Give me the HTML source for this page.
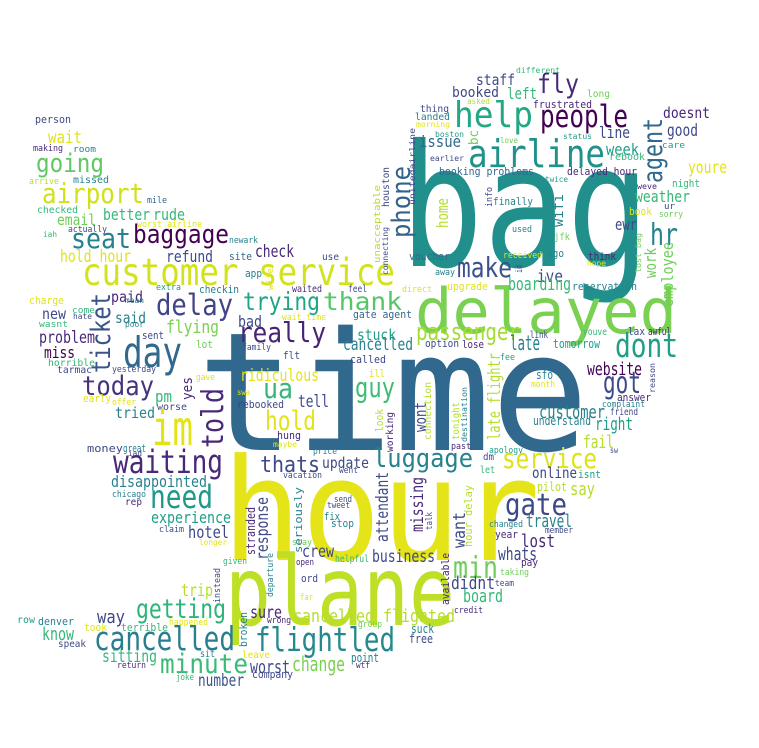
<!DOCTYPE html>
<html><head><meta charset="utf-8"><style>
html,body{margin:0;padding:0;background:#fff;}
svg{display:block;}
text{font-family:"DejaVu Sans Mono","Liberation Mono",monospace;}
</style></head>
<body>
<svg id="cloud" width="759" height="748" viewBox="0 0 759 748" xmlns="http://www.w3.org/2000/svg">
<rect width="759" height="748" fill="#fff"/>
</svg>
<script>
const P="#440154",P2="#482878",B1="#3e4989",B="#31688e",T="#26828e",T2="#1f9e89",G="#35b779",G2="#6ece58",YG="#b5de2b",Y="#e2e418";
// [word, x, y(baseline), length, fontSize, color, vertical]
const words=[
["bag",400,266,250,170,"#21908d",0],
["time",197,450,392,165,"#31688e",0],
["hour",222,560,318,142,"#e4e419",0],
["plane",225,625,230,96,"#bddf26",0],
["delayed",415,333,262,62,"#7ad151",0],
["customer service",82,285,313,37,"#d2e21b",0],
["airline",468,167,137,38,"#21918c",0],
["help",454,127,79,36,"#22a884",0],
["people",540,127,88,31,P,0],
["fly",537,93,42,27,P2,0],
["staff",476,85,39,15,B1,0],
["booked",452,97,47,14,B1,0],
["left",507,99,30,16,G,0],
["long",587,97,23,10,G2,0],
["different",516,73,44,8,G,0],
["asked",467,104,23,8,YG,0],
["frustrated",533,108,59,11,P2,0],
["thing",420,112,29,10,B1,0],
["doesnt",663,118,47,15,P2,0],
["landed",415,120,35,10,T,0],
["morning",416,127,34,8,Y,0],
["good",667,136,31,17,B1,0],
["line",599,138,31,16,B1,0],
["status",563,139,29,8,T2,0],
["issue",419,147,42,16,B,0],
["boston",435,137,29,8,T2,0],
["love",500,143,18,8,G2,0],
["care",662,148,23,9,T2,0],
["week",606,155,33,16,T2,0],
["rebook",609,160,36,10,G,0],
["earlier",430,161,34,8,B1,0],
["youre",688,173,39,17,Y,0],
["booking problems",439,175,95,11,B,0],
["delayed hour",567,175,70,11,P2,0],
["twice",545,182,23,8,T2,0],
["weve",637,189,20,8,P2,0],
["night",672,187,28,11,G,0],
["finally",493,205,40,11,T,0],
["weather",635,202,55,16,G,0],
["ur",664,209,11,9,B1,0],
["book",629,215,23,11,Y,0],
["sorry",659,217,24,9,G2,0],
["ewr",615,230,22,16,B1,0],
["hr",650,245,28,30,T,0],
["used",512,232,20,9,T,0],
["jfk",554,240,16,10,G2,0],
["voucher",409,260,41,11,B,0],
["received",503,258,39,9,Y,0],
["ago",547,257,17,11,T,0],
["think",588,260,28,11,P2,0],
["hope",587,266,19,8,Y,0],
["make",457,277,55,28,"#3b528b",0],
["away",435,275,20,9,T,0],
["ive",537,282,26,17,B1,0],
["boarding",508,290,63,18,G,0],
["upgrade",447,290,41,11,Y,0],
["reservation",572,290,65,11,T,0],
["direct",402,292,30,9,Y,0],
["passenger",416,340,104,24,"#a5db36",0],
["late",510,350,30,20,T,0],
["tomorrow",553,348,47,12,T2,0],
["option",425,347,34,11,B1,0],
["lose",462,348,22,11,P2,0],
["link",530,338,18,10,B1,0],
["youve",583,335,24,10,G,0],
["lax",628,335,17,11,B1,0],
["awful",648,335,23,11,P2,0],
["dont",615,357,63,33,T2,0],
["fee",500,360,15,9,T2,0],
["website",587,375,55,18,P,0],
["sfo",536,379,17,12,T,0],
["month",531,387,24,9,Y,0],
["got",603,393,38,30,B1,0],
["answer",617,401,34,11,P2,0],
["complaint",602,407,43,9,T,0],
["friend",610,415,28,10,B1,0],
["customer",539,418,66,18,T,0],
["understand",533,425,58,12,T,0],
["right",595,430,38,18,T2,0],
["fail",583,448,31,18,YG,0],
["past",451,449,20,9,P2,0],
["apology",489,453,34,9,T2,0],
["dm",483,460,11,10,B1,0],
["sw",610,453,8,8,B1,0],
["let",480,473,15,10,G,0],
["service",502,468,95,28,"#dde318",0],
["online",532,478,45,15,B1,0],
["isnt",578,478,23,11,T2,0],
["person",35,123,36,11,B1,0],
["wait",48,143,34,17,Y,0],
["making",33,151,30,9,P2,0],
["room",73,152,23,9,T,0],
["going",36,172,68,26,"#5ec962",0],
["arrive",29,184,30,9,YG,0],
["missed",73,183,36,10,T,0],
["airport",42,203,102,28,"#d0e11c",0],
["mile",147,203,20,9,B,0],
["checked",37,213,41,10,G,0],
["email",57,225,39,15,G2,0],
["better",103,220,47,16,G,0],
["rude",153,220,32,16,G,0],
["worst airline",137,227,65,9,Y,0],
["actually",68,232,39,9,B1,0],
["iah",43,237,14,8,G,0],
["seat",71,248,60,28,T,0],
["baggage",133,243,96,26,P,0],
["newark",229,243,29,9,T,0],
["hold hour",60,262,71,17,Y,0],
["refund",166,262,47,16,B1,0],
["site",229,260,23,11,B,0],
["check",255,257,39,17,P2,0],
["use",322,260,17,10,B1,0],
["app",245,277,17,11,T,0],
["charge",29,304,35,11,Y,0],
["extra",156,290,25,9,T2,0],
["checkin",199,293,40,11,T,0],
["waited",292,292,30,10,P2,0],
["feel",348,292,19,10,B1,0],
["paid",111,302,32,15,P2,0],
["mean",125,303,19,8,B,0],
["delay",156,315,77,29,"#414487",0],
["trying",243,310,77,25,"#20a486",0],
["thank",323,310,79,25,"#56c667",0],
["new",42,319,24,15,B1,0],
["come",72,313,23,9,G,0],
["hate",73,319,19,8,B1,0],
["said",115,323,31,15,T,0],
["wasnt",39,327,29,9,G,0],
["poor",125,327,19,8,T,0],
["wait time",282,320,44,9,Y,0],
["gate agent",353,318,59,11,B,0],
["bad",238,327,24,16,B1,0],
["flying",166,333,53,18,"#7ad151",0],
["really",238,342,88,28,"#482475",0],
["stuck",357,340,39,15,T2,0],
["problem",39,343,56,17,P2,0],
["sent",142,339,22,11,B1,0],
["lot",196,348,17,11,G2,0],
["family",242,350,29,9,B1,0],
["cancelled",343,350,70,17,T,0],
["miss",44,358,31,16,P,0],
["day",123,367,59,42,B,0],
["flt",283,359,17,11,B1,0],
["called",350,363,36,11,B1,0],
["horrible",48,366,47,10,G,0],
["tarmac",57,373,35,10,B1,0],
["yesterday",112,372,44,9,B1,0],
["ridiculous",240,381,79,17,Y,0],
["ill",369,377,16,11,Y,0],
["today",82,395,72,27,"#46337e",0],
["gave",196,380,19,9,Y,0],
["ua",263,398,30,28,G,0],
["guy",355,397,40,28,"#3fbc73",0],
["pm",155,402,17,16,G,0],
["swa",237,395,13,8,Y,0],
["early",83,402,28,11,Y,0],
["offer",112,405,24,9,Y,0],
["tell",298,407,31,17,B1,0],
["rebooked",237,408,47,11,B1,0],
["worse",157,410,30,10,B1,0],
["im",152,445,41,48,Y,0],
["tried",115,418,40,15,T,0],
["hold",265,430,51,27,Y,0],
["hung",277,439,24,11,P2,0],
["maybe",273,447,24,8,Y,0],
["money",87,452,36,11,B1,0],
["great",123,452,23,11,T,0],
["iad",128,456,14,8,B1,0],
["waiting",113,473,110,32,P2,0],
["thats",260,472,60,22,B1,0],
["update",322,468,47,15,B1,0],
["luggage",373,467,100,26,T,0],
["price",313,454,24,9,T,0],
["vacation",283,478,39,9,B1,0],
["went",339,473,19,9,B1,0],
["disappointed",111,487,96,16,T,0],
["chicago",112,497,34,9,T,0],
["need",150,508,63,32,"#1f9a8a",0],
["rep",125,505,17,10,P2,0],
["gate",505,515,62,30,B1,0],
["send",334,502,18,9,B1,0],
["tweet",327,508,23,9,B1,0],
["fix",324,520,16,11,T,0],
["stop",331,527,23,11,T,0],
["experience",151,523,80,16,T2,0],
["claim",159,532,25,9,B1,0],
["hotel",188,538,41,17,B1,0],
["longer",199,545,28,8,Y,0],
["stay",292,545,20,9,G2,0],
["travel",526,527,46,18,T,0],
["changed",489,527,34,9,T,0],
["member",545,533,28,9,B1,0],
["year",495,538,23,11,P2,0],
["lost",521,547,34,18,P2,0],
["say",570,495,25,18,YG,0],
["pilot",537,491,30,12,YG,0],
["crew",302,557,32,17,B1,0],
["helpful",335,562,34,10,G,0],
["business",372,562,63,17,"#3e4989",0],
["open",296,565,18,9,P2,0],
["whats",498,560,39,18,B1,0],
["pay",521,566,17,11,P2,0],
["taking",500,575,29,9,G2,0],
["given",223,564,24,9,G,0],
["min",453,578,45,30,G2,0],
["ord",301,582,17,11,B1,0],
["team",495,586,19,9,B1,0],
["didnt",451,589,44,18,B1,0],
["trip",181,596,32,17,YG,0],
["far",300,600,13,9,Y,0],
["board",463,602,40,18,G,0],
["credit",454,613,29,9,P2,0],
["getting",136,618,90,27,"#2eb37c",0],
["sure",250,618,32,17,P2,0],
["cancelled flighted",293,622,162,18,"#b5de2b",0],
["wrong",267,623,24,9,P2,0],
["way",97,623,28,18,B1,0],
["row",17,623,18,10,T2,0],
["denver",38,625,36,11,T,0],
["happened",169,625,39,9,Y,0],
["group",358,627,24,9,G2,0],
["took",84,631,23,11,Y,0],
["terrible",121,631,47,11,G,0],
["suck",411,633,23,12,T,0],
["know",42,640,32,18,G,0],
["free",409,643,24,12,B1,0],
["speak",58,647,28,10,B1,0],
["cancelled",94,650,141,33,"#287d8e",0],
["flightled",255,651,140,33,"#23898e",0],
["leave",242,658,28,10,Y,0],
["sit",200,657,15,10,T,0],
["sitting",102,662,55,17,G,0],
["point",351,662,28,12,T,0],
["return",117,668,29,9,P2,0],
["wtf",356,668,14,9,P2,0],
["change",292,671,53,20,"#7ad151",0],
["minute",160,673,88,27,"#3aba76",0],
["worst",250,673,40,18,B1,0],
["company",252,678,41,11,B1,0],
["joke",176,680,18,9,G,0],
["number",198,686,46,17,"#3b528b",0],
// vertical words: x = baseline x, y = bottom end
["ticket",110,373,80,27,"#3b528b",1],
["yes",192,400,23,14,P2,1],
["told",223,448,60,30,P2,1],
["wife",273,290,22,9,Y,1],
["phone",410,238,72,26,"#33638d",1],
["houston",389,207,40,10,B1,1],
["unitedairline",415,205,77,8,B1,1],
["unacceptable",380,263,78,9,YG,1],
["connecting",388,275,48,8,B1,1],
["info",492,207,20,9,B1,1],
["bc",478,145,15,13,G2,1],
["agent",662,183,65,27,B,1],
["wifi",563,227,33,14,T,1],
["home",448,228,30,16,YG,1],
["lost bag",641,273,40,8,G2,1],
["work",656,278,30,16,G2,1],
["employee",673,307,65,16,G2,1],
["id",522,273,8,9,B1,1],
["reason",655,393,30,8,B1,1],
["late flightr",500,440,87,17,YG,1],
["wont",426,432,30,16,B1,1],
["connection",431,440,58,10,YG,1],
["tonight",459,440,38,10,YG,1],
["destination",467,442,55,8,T,1],
["look",383,432,23,11,YG,1],
["working",393,452,40,10,P2,1],
["response",268,560,63,17,B1,1],
["stranded",255,555,48,12,P2,1],
["seriously",302,553,66,11,T,1],
["attendant",388,542,70,17,B1,1],
["missing",423,532,55,17,P2,1],
["want",465,548,36,17,B1,1],
["hour delay",472,547,62,11,YG,1],
["talk",432,530,18,9,B1,1],
["available",449,605,52,11,P2,1],
["departure",273,597,44,9,T,1],
["instead",220,603,35,9,B1,1],
["broken",247,647,35,11,T,1]
];
const svg=document.getElementById('cloud');
const NS="http://www.w3.org/2000/svg";
words.forEach(w=>{
  const t=document.createElementNS(NS,'text');
  t.textContent=w[0];
  t.setAttribute('font-size',w[4]);
  t.setAttribute('fill',w[5]);
  t.setAttribute('textLength',w[3]);
  t.setAttribute('lengthAdjust','spacingAndGlyphs');
  if(w[6]){
    t.setAttribute('transform','translate('+w[1]+','+w[2]+') rotate(-90)');
    t.setAttribute('x',0);t.setAttribute('y',0);
  }else{
    t.setAttribute('x',w[1]);t.setAttribute('y',w[2]);
  }
  
  
  svg.appendChild(t);
});
</script>
</body></html>
